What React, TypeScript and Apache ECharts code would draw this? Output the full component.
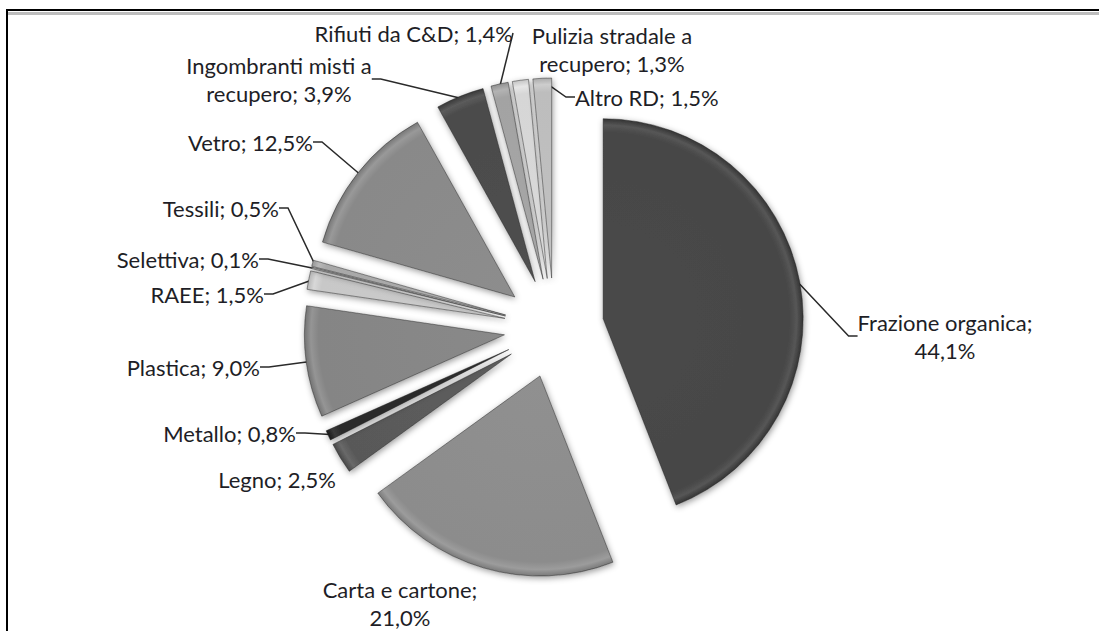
import React, { useEffect, useRef } from "react";
import * as echarts from "echarts";

const categories = [
  "Frazione organica",
  "Carta e cartone",
  "Legno",
  "Metallo",
  "Plastica",
  "RAEE",
  "Selettiva",
  "Tessili",
  "Vetro",
  "Ingombranti misti a\nrecupero",
  "Rifiuti da C&D",
  "Pulizia stradale a\nrecupero",
  "Altro RD",
];
const shares = [44.1, 21.0, 2.5, 0.8, 9.0, 1.5, 0.1, 0.5, 12.5, 3.9, 1.4, 1.3, 1.5];
const breakAfterName = [true, true, false, false, false, false, false, false, false, false, false, false, false];
const sliceColors = [
  "#464646", "#8c8c8c", "#595959", "#2a2a2a", "#858585", "#c8c8c8", "#d9d9d9",
  "#a8a8a8", "#898989", "#4b4b4b", "#a3a3a3", "#d6d6d6", "#bdbdbd",
];
// label anchor: x, y, align
const labelSpots: [number, number, string][] = [
  [945, 336, "center"],
  [400, 603, "center"],
  [336, 479, "right"],
  [296, 433, "right"],
  [260, 367, "right"],
  [264, 294, "right"],
  [259, 259, "right"],
  [279, 208, "right"],
  [313, 142, "right"],
  [279, 79, "center"],
  [513, 33, "right"],
  [612, 49, "center"],
  [575, 97, "left"],
];
const showLeader = [true, false, false, true, true, true, true, true, true, true, true, false, true];

const CENTER = [554, 328];
const RADIUS = 200;
const EXPLODE = 50;

function fmt(v: number) {
  return v.toFixed(1).replace(".", ",") + "%";
}

function shade(hex: string, d: number) {
  const n = parseInt(hex.slice(1), 16);
  const c = (v: number) => Math.max(0, Math.min(255, v + d));
  const r = c((n >> 16) & 255), g = c((n >> 8) & 255), b = c(n & 255);
  return `rgb(${r},${g},${b})`;
}

function bevel(base: string) {
  return new echarts.graphic.RadialGradient(CENTER[0], CENTER[1], RADIUS, [
    { offset: 0, color: shade(base, 4) },
    { offset: 0.93, color: base },
    { offset: 0.968, color: shade(base, 16) },
    { offset: 1, color: shade(base, -18) },
  ], true);
}

export default function App() {
  const ref = useRef<HTMLDivElement>(null);
  useEffect(() => {
    if (!ref.current) return;
    const chart = echarts.init(ref.current, undefined, { renderer: "svg" });
    const sliceData = categories.map((name, i) => ({
      name,
      value: shares[i],
      selected: true,
      itemStyle: { color: bevel(sliceColors[i]) },
    }));
    const labelData = categories.map((name, i) => ({
      name,
      value: shares[i],
      labelLine: { show: showLeader[i] },
    }));
    chart.setOption({
      animation: false,
      backgroundColor: "#ffffff",
      graphic: [
        { type: "rect", shape: { x: 6, y: 9, width: 1093, height: 2 }, style: { fill: "#000" } },
        { type: "rect", shape: { x: 8, y: 12, width: 1091, height: 3 }, style: { fill: "#bdbdbd" } },
        { type: "rect", shape: { x: 6, y: 9, width: 2, height: 622 }, style: { fill: "#000" } },
      ],
      series: [
        {
          type: "pie",
          name: "slices",
          center: CENTER,
          radius: [0, RADIUS],
          startAngle: 90,
          clockwise: true,
          selectedMode: "multiple",
          selectedOffset: EXPLODE,
          label: { show: false },
          labelLine: { show: false },
          itemStyle: {
            borderColor: "rgba(30,30,30,0.45)",
            borderWidth: 1,
            shadowBlur: 6,
            shadowColor: "rgba(0,0,0,0.4)",
            shadowOffsetX: 1,
            shadowOffsetY: 2,
          },
          select: { itemStyle: { borderColor: "rgba(30,30,30,0.45)", borderWidth: 1 } },
          emphasis: { disabled: true },
          silent: true,
          data: sliceData,
        },
        {
          type: "pie",
          name: "labels",
          center: CENTER,
          radius: [0, RADIUS + EXPLODE - 2],
          startAngle: 90,
          clockwise: true,
          silent: true,
          selectedMode: false,
          avoidLabelOverlap: false,
          itemStyle: { color: "rgba(0,0,0,0)", borderWidth: 0 },
          emphasis: { disabled: true },
          label: {
            show: true,
            fontFamily: "Lato",
            fontSize: 22,
            lineHeight: 28,
            color: "#1e1e26",
            formatter: (p: any) =>
              p.name + (breakAfterName[p.dataIndex] ? ";\n" : "; ") + fmt(p.value),
          },
          labelLine: {
            show: true,
            length: 10,
            length2: 9,
            lineStyle: { color: "#2a2a2a", width: 1.5 },
          },
          labelLayout: (params: any) => {
            const s = labelSpots[params.dataIndex];
            return { x: s[0], y: s[1], align: s[2], verticalAlign: "middle", hideOverlap: false };
          },
          data: labelData,
        },
      ],
    });
    return () => chart.dispose();
  }, []);
  return (
    <div
      ref={ref}
      style={{ position: "absolute", left: 0, top: 0, width: 1099, height: 631 }}
    />
  );
}
